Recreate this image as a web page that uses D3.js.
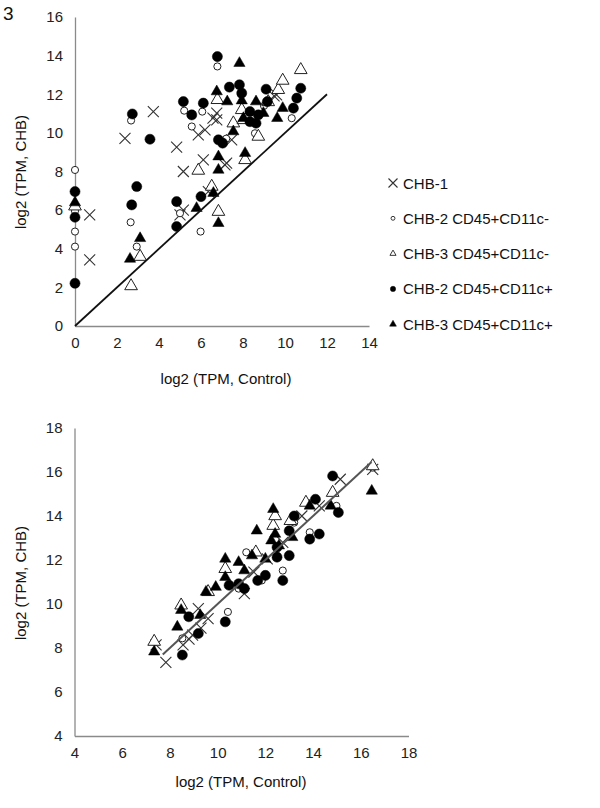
<!DOCTYPE html>
<html><head><meta charset="utf-8">
<script src="https://cdn.jsdelivr.net/npm/d3@7"></script>
<style>
body{margin:0;background:#fff;}
svg text{font-family:"Liberation Sans",Arial,sans-serif;}
</style></head>
<body><svg id="c" width="600" height="808"></svg>
<script>
// ---------- DATA ----------
const seriesNames = ["CHB-1","CHB-2 CD45+CD11c-","CHB-3 CD45+CD11c-","CHB-2 CD45+CD11c+","CHB-3 CD45+CD11c+"];
const axisTicks = {topX:[0,2,4,6,8,10,12,14], topY:[0,2,4,6,8,10,12,14,16], botX:[4,6,8,10,12,14,16,18], botY:[4,6,8,10,12,14,16,18]};
const topLine = [[0,0],[12,12]];
const botLine = [[7.7,7.7],[16.45,16.45]];

// top panel [control, CHB]
const topCHB1 = [[0.7,5.75],[0.7,3.42],[2.38,9.72],[3.73,11.1],[4.84,9.26],[5.16,8.0],[5.0,5.75],[5.16,6.0],[5.87,9.9],[6.19,10.16],[6.11,8.6],[6.75,11.02],[6.75,10.67],[6.35,6.96],[7.14,8.34],[7.22,8.43],[7.46,9.64],[9.48,11.92],[6.57,10.76],[9.6,11.97]];
const topCHB2neg = [[0,8.08],[0,5.95],[0,4.89],[0,4.11],[2.67,10.64],[2.65,5.37],[2.94,4.11],[5.2,11.15],[5.56,10.33],[6.06,11.1],[5.0,5.84],[5.98,4.89],[6.78,13.44],[8.57,9.98],[10.32,10.76],[7.9,12.0],[9.0,11.4],[7.2,9.7]];
const topCHB3neg = [[0,6.2],[2.67,2.07],[3.1,3.59],[5.87,8.05],[6.51,7.22],[6.83,5.92],[6.78,11.71],[7.94,11.19],[7.54,10.5],[8.02,10.67],[8.73,9.81],[8.1,8.6],[9.68,12.23],[9.89,12.71],[10.75,13.26],[9.2,11.6]];
const topCHB2pos = [[0,6.96],[0,5.63],[0,2.21],[2.73,10.98],[3.57,9.67],[2.94,7.22],[2.7,6.27],[4.84,6.44],[4.84,5.15],[5.16,11.62],[5.56,10.93],[6.11,11.54],[6.0,6.7],[6.78,13.95],[7.35,12.37],[7.83,12.49],[7.94,12.06],[6.83,9.64],[7.03,9.47],[8.33,11.1],[8.73,10.93],[9.1,12.26],[9.16,11.62],[10.4,11.28],[10.56,11.8],[10.75,12.31],[8.33,10.58],[8.62,10.5]];
const topCHB3pos = [[0,6.39],[2.62,3.47],[3.1,4.54],[5.79,6.1],[6.59,6.88],[6.83,5.32],[6.83,8.77],[6.83,8.08],[6.75,12.14],[7.83,13.61],[7.25,11.62],[7.94,11.67],[8.62,11.62],[8.97,11.02],[9.63,10.76],[9.89,11.28],[8.02,10.76],[7.54,10.07],[8.1,8.95]];

// bottom panel [control, CHB]
const botCHB1 = [[7.83,7.35],[7.42,8.14],[8.55,8.14],[8.95,8.59],[9.19,9.79],[9.6,9.34],[11.12,10.47],[11.52,11.45],[12.08,12.05],[12.73,12.8],[13.53,14.0],[14.26,14.46],[15.14,15.67],[16.5,16.12],[9.3,8.9],[8.8,8.4]];
const botCHB2neg = [[8.52,8.44],[10.43,9.64],[11.2,12.35],[12.73,11.52],[11.85,11.07],[13.86,13.26],[14.98,14.46],[16.5,16.2],[13.21,13.7],[10.88,10.7]];
const botCHB3neg = [[7.34,8.29],[8.47,9.94],[10.32,11.6],[9.6,10.55],[11.6,12.35],[12.33,13.56],[13.7,14.61],[14.82,15.06],[16.5,16.27],[13.05,13.78],[12.41,14.0]];
const botCHB2pos = [[8.52,7.68],[8.79,9.42],[9.19,8.66],[10.32,9.19],[10.48,10.85],[10.88,10.92],[11.12,10.7],[11.68,11.07],[12.0,11.3],[12.49,12.13],[12.73,11.07],[13.0,12.2],[13.0,13.33],[13.21,14.0],[13.86,12.95],[14.26,13.18],[14.1,14.76],[14.82,15.82],[15.06,14.16],[12.49,12.58]];
const botCHB3pos = [[7.34,7.83],[8.31,8.96],[8.47,9.72],[9.27,9.49],[9.51,10.55],[9.92,10.77],[10.32,12.05],[10.32,11.22],[10.88,11.9],[11.12,11.52],[11.44,12.2],[11.64,13.33],[12.0,12.05],[12.25,12.88],[12.33,14.31],[12.41,13.18],[12.57,12.65],[13.13,13.03],[13.86,14.46],[14.74,14.46],[16.46,15.14]];

// ---------- DRAW ----------
const svg = d3.select("#c");
const topSeries = [topCHB1, topCHB2neg, topCHB3neg, topCHB2pos, topCHB3pos];
const botSeries = [botCHB1, botCHB2neg, botCHB3neg, botCHB2pos, botCHB3pos];

function xPath(h){return `M${-h},${-h}L${h},${h}M${-h},${h}L${h},${-h}`;}
const styles = [
  {d: xPath(5.5), fill:"none", stroke:"#333", sw:1.1},
  {d: d3.symbol(d3.symbolCircle, 40)(), fill:"#fff", stroke:"#222", sw:1},
  {d: d3.symbol(d3.symbolTriangle, 70)(), fill:"#fff", stroke:"#222", sw:1},
  {d: d3.symbol(d3.symbolCircle, 80)(), fill:"#000", stroke:"#000", sw:0.5},
  {d: d3.symbol(d3.symbolTriangle, 55)(), fill:"#000", stroke:"#000", sw:0.5}
];
const legStyles = [
  {d: xPath(4.5), fill:"none", stroke:"#333", sw:1.1},
  {d: d3.symbol(d3.symbolCircle, 12)(), fill:"#fff", stroke:"#222", sw:0.9},
  {d: d3.symbol(d3.symbolTriangle, 16)(), fill:"#fff", stroke:"#222", sw:0.9},
  {d: d3.symbol(d3.symbolCircle, 22)(), fill:"#000", stroke:"#000", sw:0.5},
  {d: d3.symbol(d3.symbolTriangle, 20)(), fill:"#000", stroke:"#000", sw:0.5}
];

function panel(x, y, xt, yt, series, line, lineColor, lineW, lineOnTop){
  const g = svg.append("g");
  const ax = g.append("g").attr("transform",`translate(0,${y.range()[0]})`)
    .call(d3.axisBottom(x).tickValues(xt).tickSize(0).tickPadding(11).tickFormat(d3.format("d")));
  const ay = g.append("g").attr("transform",`translate(${x.range()[0]},0)`)
    .call(d3.axisLeft(y).tickValues(yt).tickSize(0).tickPadding(12).tickFormat(d3.format("d")));
  [ax,ay].forEach(a=>{
    a.select(".domain").attr("stroke","#8a8a8a").attr("stroke-width",1.3);
    a.selectAll("text").attr("font-size",15).attr("fill","#222");
  });
  const drawLine = ()=> g.append("path").datum(line)
    .attr("d", d3.line().x(d=>x(d[0])).y(d=>y(d[1])))
    .attr("stroke", lineColor).attr("stroke-width", lineW).attr("fill","none");
  if(!lineOnTop) drawLine();
  series.forEach((s,i)=>{
    const st = styles[i];
    g.append("g").selectAll("path").data(s).join("path")
      .attr("transform", d=>`translate(${x(d[0])},${y(d[1])})`)
      .attr("d", st.d).attr("fill", st.fill).attr("stroke", st.stroke).attr("stroke-width", st.sw);
  });
  if(lineOnTop) drawLine();
}

const xTop = d3.scaleLinear().domain([0,14]).range([75,369]);
const yTop = d3.scaleLinear().domain([0,16]).range([326,17]);
panel(xTop, yTop, axisTicks.topX, axisTicks.topY, topSeries, topLine, "#111", 1.8, true);

const xBot = d3.scaleLinear().domain([4,18]).range([74.5,408.5]);
const yBot = d3.scaleLinear().domain([4,18]).range([736,428]);
panel(xBot, yBot, axisTicks.botX, axisTicks.botY, botSeries, botLine, "#555", 2, true);

// labels
svg.append("text").attr("x",3).attr("y",20).attr("font-size",19).attr("fill","#111").text("3");
svg.append("text").attr("transform","translate(26,172) rotate(-90)").attr("text-anchor","middle").attr("font-size",15).attr("fill","#111").text("log2 (TPM, CHB)");
svg.append("text").attr("x",226).attr("y",384).attr("text-anchor","middle").attr("font-size",15).attr("fill","#111").text("log2 (TPM, Control)");
svg.append("text").attr("transform","translate(26,583) rotate(-90)").attr("text-anchor","middle").attr("font-size",15).attr("fill","#111").text("log2 (TPM, CHB)");
svg.append("text").attr("x",241).attr("y",787).attr("text-anchor","middle").attr("font-size",15).attr("fill","#111").text("log2 (TPM, Control)");

// legend
const lg = svg.append("g");
seriesNames.forEach((n,i)=>{
  const yy = 183 + i*35.3;
  const st = legStyles[i];
  lg.append("path").attr("transform",`translate(393,${yy})`).attr("d",st.d)
    .attr("fill",st.fill).attr("stroke",st.stroke).attr("stroke-width",st.sw);
  lg.append("text").attr("x",403).attr("y",yy+5.5).attr("font-size",15).attr("fill","#111").text(n);
});
</script></body></html>
